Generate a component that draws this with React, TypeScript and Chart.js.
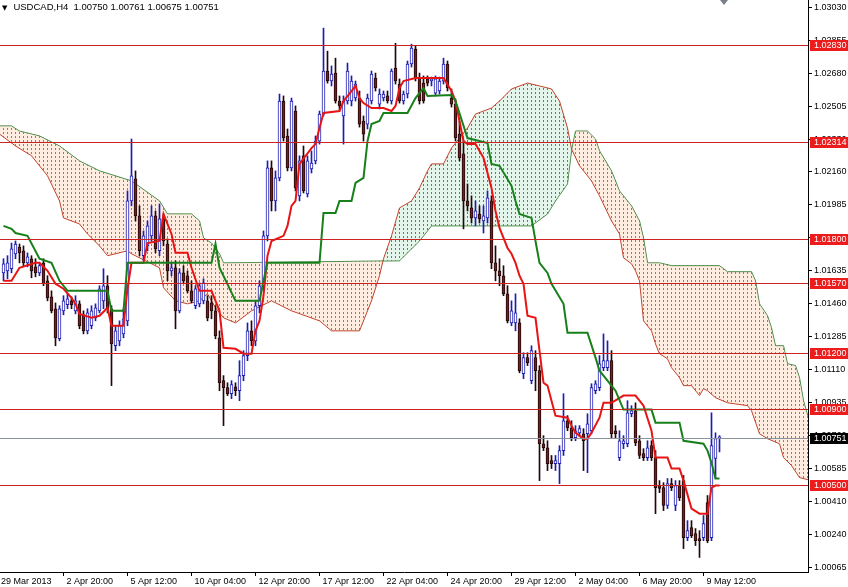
import React, { useEffect, useRef } from "react";
import { Chart, registerables } from "chart.js";
Chart.register(...registerables);

const headerSymbol = "USDCAD,H4";
const headerValues = "1.00750 1.00761 1.00675 1.00751";

const opens = [
  1.01623, 1.01634, 1.01645, 1.01724, 1.0176, 1.0174, 1.01676, 1.01698, 1.01655, 1.01623,
  1.01676, 1.01581, 1.01496, 1.01433, 1.01274, 1.01422, 1.01454, 1.01475, 1.01422, 1.01459,
  1.01401, 1.01316, 1.01343, 1.01385, 1.01422, 1.01475, 1.01555, 1.01433, 1.01237, 1.01263,
  1.013, 1.01369, 1.02004, 1.02121, 1.01925, 1.01714, 1.01766, 1.01819, 1.01925, 1.0174,
  1.01909, 1.01776, 1.01634, 1.0165, 1.01422, 1.01623, 1.01608, 1.01528, 1.01449, 1.01459,
  1.01475, 1.01475, 1.01464, 1.01422, 1.01279, 1.01052, 1.01015, 1.00983, 1.0102, 1.00999,
  1.01079, 1.01185, 1.01316, 1.01263, 1.01449, 1.01555, 1.01819, 1.02179, 1.02004, 1.02126,
  1.02533, 1.02348, 1.02179, 1.0248, 1.02031, 1.02243, 1.02041, 1.02174, 1.02216, 1.02321,
  1.02464, 1.02692, 1.02639, 1.02681, 1.02533, 1.02454, 1.02533, 1.02533, 1.02549, 1.02549,
  1.02427, 1.02411, 1.02533, 1.02655, 1.02517, 1.02549, 1.0256, 1.02533, 1.02708, 1.02623,
  1.02533, 1.0257, 1.02729, 1.02808, 1.02655, 1.02628, 1.0265, 1.02639, 1.02575, 1.02586,
  1.02639, 1.02729, 1.02549, 1.02517, 1.02358, 1.02253, 1.02004, 1.01967, 1.01914, 1.01935,
  1.01898, 1.01914, 1.02004, 1.01676, 1.01634, 1.01608, 1.01512, 1.01358, 1.01358, 1.01358,
  1.01089, 1.01174, 1.01052, 1.01174, 1.01105, 1.00718, 1.00697, 1.00629, 1.00613, 1.00613,
  1.00682, 1.0084, 1.00803, 1.0075, 1.00776, 1.00771, 1.00771, 1.00787, 1.00999, 1.01015,
  1.01121, 1.01121, 1.01158, 1.00787, 1.00645, 1.00718, 1.00718, 1.00877, 1.00893, 1.00734,
  1.00666, 1.00645, 1.00708, 1.00645, 1.00497, 1.00486, 1.00391, 1.00507, 1.00391, 1.00497,
  1.00523, 1.00221, 1.00274, 1.00242, 1.00216, 1.00221, 1.00406, 1.00221, 1.0064, 1.0075,
];
const highs = [
  1.01698, 1.01714, 1.01781, 1.01792, 1.01776, 1.01766, 1.01729, 1.01714, 1.01698, 1.01676,
  1.01698, 1.01608, 1.01528, 1.01464, 1.01449, 1.01502, 1.01512, 1.01496, 1.01502, 1.01475,
  1.01422, 1.01433, 1.01449, 1.01459, 1.01555, 1.01645, 1.01608, 1.01449, 1.01343, 1.01369,
  1.01433, 1.02057, 1.02332, 1.02163, 1.01978, 1.01845, 1.01898, 1.01978, 1.01951, 1.01988,
  1.01935, 1.01803, 1.01676, 1.01687, 1.01645, 1.01661, 1.01634, 1.01581, 1.01555, 1.0157,
  1.01592, 1.01502, 1.01502, 1.01449, 1.01316, 1.01079, 1.01041, 1.01052, 1.01041, 1.01158,
  1.01211, 1.01358, 1.01369, 1.01475, 1.01581, 1.01845, 1.02216, 1.02216, 1.02163, 1.0257,
  1.0256, 1.02385, 1.02549, 1.02507, 1.02243, 1.02295, 1.02243, 1.02269, 1.02348, 1.0248,
  1.02919, 1.02797, 1.02719, 1.0276, 1.0256, 1.0256, 1.02734, 1.02666, 1.02639, 1.02586,
  1.02454, 1.0257, 1.02692, 1.02681, 1.02597, 1.02586, 1.02586, 1.02703, 1.02839, 1.0265,
  1.02586, 1.02745, 1.02834, 1.02824, 1.02681, 1.02666, 1.02666, 1.0266, 1.02666, 1.0266,
  1.0276, 1.02745, 1.02597, 1.02544, 1.02427, 1.02321, 1.02094, 1.02031, 1.02004, 1.01978,
  1.01978, 1.02057, 1.02031, 1.01766, 1.01698, 1.01661, 1.01555, 1.01475, 1.01512, 1.0138,
  1.012, 1.012, 1.01237, 1.01211, 1.01132, 1.00761, 1.00734, 1.00656, 1.00656, 1.00708,
  1.00983, 1.00867, 1.0084, 1.00814, 1.00814, 1.00798, 1.00877, 1.01036, 1.01052, 1.01185,
  1.013, 1.01263, 1.01211, 1.00814, 1.00787, 1.00761, 1.00946, 1.0092, 1.00935, 1.00761,
  1.00692, 1.00734, 1.00734, 1.00682, 1.00523, 1.00512, 1.00534, 1.00534, 1.00523, 1.00523,
  1.0055, 1.00311, 1.00311, 1.00269, 1.00258, 1.00338, 1.00444, 1.00882, 1.00776, 1.00761,
];
const lows = [
  1.01581, 1.01592, 1.01623, 1.01698, 1.01676, 1.01661, 1.01655, 1.01597, 1.01602, 1.01608,
  1.01555, 1.01475, 1.01411, 1.01237, 1.01263, 1.01401, 1.01433, 1.01433, 1.01406, 1.01327,
  1.013, 1.013, 1.01327, 1.01369, 1.01411, 1.01433, 1.01411, 1.01026, 1.01211, 1.01237,
  1.01279, 1.01343, 1.01978, 1.01898, 1.01714, 1.01687, 1.0174, 1.01792, 1.01729, 1.01714,
  1.01766, 1.01581, 1.01608, 1.01327, 1.01411, 1.0157, 1.01517, 1.01464, 1.01433, 1.01443,
  1.01459, 1.01369, 1.0138, 1.01274, 1.00999, 1.00814, 1.00973, 1.00957, 1.00973, 1.00946,
  1.01052, 1.01158, 1.01237, 1.01237, 1.01411, 1.01528, 1.01792, 1.01951, 1.01951, 1.0211,
  1.02321, 1.02163, 1.02163, 1.02057, 1.02004, 1.02046, 1.02025, 1.02152, 1.022, 1.02305,
  1.02454, 1.02628, 1.02613, 1.02522, 1.0248, 1.02305, 1.02517, 1.02507, 1.02533, 1.02395,
  1.02321, 1.02385, 1.02517, 1.02586, 1.02491, 1.02533, 1.02522, 1.02517, 1.02623, 1.02522,
  1.02517, 1.02549, 1.02713, 1.02639, 1.02517, 1.02522, 1.02613, 1.02613, 1.0256, 1.0257,
  1.02623, 1.02586, 1.02501, 1.02321, 1.02216, 1.01856, 1.01951, 1.01887, 1.01872, 1.01887,
  1.01834, 1.01887, 1.01645, 1.01581, 1.01555, 1.01502, 1.01358, 1.01343, 1.01316, 1.01094,
  1.01063, 1.01132, 1.01036, 1.00999, 1.00523, 1.00682, 1.00576, 1.00587, 1.00576, 1.00507,
  1.00656, 1.00787, 1.00734, 1.00734, 1.00755, 1.00576, 1.00565, 1.00771, 1.00983, 1.00999,
  1.01105, 1.01105, 1.0075, 1.0075, 1.00629, 1.00692, 1.00702, 1.00861, 1.00708, 1.0064,
  1.00629, 1.00629, 1.00629, 1.00348, 1.00459, 1.00364, 1.00375, 1.0047, 1.00364, 1.00417,
  1.00163, 1.00205, 1.00221, 1.00179, 1.00116, 1.00205, 1.00194, 1.00205, 1.00534, 1.00675,
];
const closes = [
  1.01671, 1.01676, 1.0175, 1.01776, 1.01729, 1.01676, 1.01708, 1.01634, 1.01623, 1.01661,
  1.01565, 1.01491, 1.01422, 1.01279, 1.01433, 1.01475, 1.01486, 1.01454, 1.01475, 1.01343,
  1.01316, 1.01411, 1.01422, 1.01438, 1.01539, 1.01555, 1.01433, 1.01247, 1.01316, 1.01343,
  1.0138, 1.02004, 1.02137, 1.01925, 1.0174, 1.01819, 1.01872, 1.01925, 1.0175, 1.01909,
  1.01792, 1.01634, 1.0165, 1.01422, 1.01623, 1.01581, 1.01528, 1.01475, 1.01539, 1.01555,
  1.0157, 1.01385, 1.01422, 1.0129, 1.01041, 1.01015, 1.00983, 1.01031, 1.00999, 1.01079,
  1.01185, 1.01316, 1.01263, 1.01449, 1.01555, 1.01819, 1.02179, 1.02004, 1.02126, 1.02533,
  1.02337, 1.02179, 1.02533, 1.02073, 1.02216, 1.02057, 1.02216, 1.02205, 1.02321, 1.02464,
  1.02692, 1.02639, 1.02676, 1.02533, 1.02507, 1.02533, 1.02692, 1.02639, 1.02623, 1.02411,
  1.02358, 1.02549, 1.02676, 1.02602, 1.0257, 1.0257, 1.02533, 1.02692, 1.02639, 1.02533,
  1.0257, 1.02729, 1.02813, 1.02655, 1.02533, 1.02533, 1.02628, 1.0265, 1.0265, 1.02639,
  1.02729, 1.02602, 1.02517, 1.02337, 1.02232, 1.02004, 1.01978, 1.01914, 1.01951, 1.01909,
  1.01925, 1.0202, 1.01676, 1.01634, 1.01608, 1.01512, 1.01369, 1.01422, 1.01411, 1.01105,
  1.01174, 1.01147, 1.01211, 1.01105, 1.00718, 1.00697, 1.00613, 1.00613, 1.00629, 1.00682,
  1.0084, 1.00803, 1.0075, 1.00787, 1.00798, 1.00734, 1.00824, 1.01015, 1.01036, 1.01142,
  1.01158, 1.01158, 1.00771, 1.00771, 1.00734, 1.00734, 1.00882, 1.00893, 1.00723, 1.00656,
  1.00645, 1.00697, 1.00645, 1.00486, 1.00481, 1.00391, 1.00507, 1.00486, 1.00497, 1.00433,
  1.00221, 1.00258, 1.00232, 1.00205, 1.00205, 1.00295, 1.00205, 1.00708, 1.00745, 1.00751,
];

// Ichimoku lines: [bar index, price]
const tenkan: [number, number][] = [
  [0, 1.01581], [2, 1.01581], [4, 1.0165], [8, 1.01676], [9, 1.01676], [11, 1.01634], [13, 1.01565],
  [15, 1.01539], [17, 1.01491], [18, 1.01459], [19, 1.01406], [22, 1.01385], [24, 1.01396], [26, 1.01438],
  [27, 1.01343], [30, 1.01343], [31, 1.01539], [32, 1.01676], [35, 1.01676], [36, 1.01781], [39, 1.01792],
  [40, 1.01935], [42, 1.01829], [43, 1.01729], [46, 1.01729], [47, 1.0165], [49, 1.01528], [52, 1.01528],
  [53, 1.01475], [54, 1.01422], [55, 1.01226], [58, 1.01221], [60, 1.01195], [62, 1.01195], [63, 1.01316],
  [64, 1.01369], [65, 1.01502], [66, 1.01714], [67, 1.01792], [70, 1.01819], [71, 1.01872], [72, 1.01978],
  [73, 1.02004], [74, 1.022], [77, 1.02284], [78, 1.02305], [79, 1.0239], [80, 1.0247], [84, 1.0248],
  [85, 1.02533], [87, 1.02586], [88, 1.02613], [89, 1.02549], [90, 1.02522], [92, 1.02496], [95, 1.02496],
  [97, 1.0248], [98, 1.02507], [99, 1.02602], [100, 1.02639], [103, 1.02655], [110, 1.02655], [112, 1.02586],
  [113, 1.02533], [115, 1.02321], [116, 1.02305], [118, 1.02305], [120, 1.02232], [122, 1.02073], [123, 1.01951],
  [124, 1.01861], [126, 1.01755], [127, 1.01724], [128, 1.01676], [129, 1.01608], [130, 1.01565], [131, 1.01396],
  [133, 1.01385], [134, 1.01211], [135, 1.01041], [136, 1.01026], [137, 1.00946], [138, 1.00867], [141, 1.00856],
  [142, 1.00814], [143, 1.00776], [145, 1.00745], [146, 1.00745], [147, 1.00776], [149, 1.00856], [150, 1.00935],
  [152, 1.00935], [155, 1.00973], [158, 1.00973], [160, 1.0092], [162, 1.00787], [163, 1.00645], [166, 1.00645],
  [167, 1.00587], [169, 1.00587], [170, 1.00523], [172, 1.00375], [174, 1.00348], [176, 1.00348], [177, 1.00486],
  [178, 1.00497], [179, 1.00497],
];
const kijun: [number, number][] = [
  [0, 1.01872], [2, 1.01856], [3, 1.01834], [6, 1.01819], [9, 1.01698], [12, 1.01676], [14, 1.01581],
  [16, 1.01528], [26, 1.01528], [27, 1.01422], [30, 1.01422], [31, 1.01676], [52, 1.01676], [53, 1.01776],
  [54, 1.0165], [58, 1.01475], [64, 1.01475], [65, 1.01581], [66, 1.01676], [79, 1.01676], [80, 1.0194],
  [83, 1.0194], [84, 1.02004], [87, 1.02004], [88, 1.02099], [90, 1.02126], [91, 1.02321], [92, 1.02411],
  [94, 1.02427], [95, 1.0247], [101, 1.0247], [103, 1.02549], [105, 1.02602], [106, 1.0256], [112, 1.02565],
  [113, 1.02533], [116, 1.02337], [121, 1.02311], [122, 1.022], [124, 1.0219], [127, 1.02084], [128, 1.02004],
  [129, 1.01935], [132, 1.01914], [133, 1.01792], [134, 1.01676], [136, 1.01623], [137, 1.01565], [140, 1.01459],
  [141, 1.01306], [146, 1.01306], [148, 1.01174], [149, 1.01105], [151, 1.01052], [153, 1.00999], [155, 1.00899],
  [162, 1.00899], [163, 1.0083], [169, 1.0083], [170, 1.00734], [175, 1.00718], [176, 1.00682], [177, 1.00618],
  [178, 1.00534], [179, 1.00534],
];
const senkouA: [number, number][] = [
  [-1, 1.02358], [3, 1.02295], [7, 1.02243], [11, 1.02137], [14, 1.02004], [15, 1.01914], [19, 1.01882],
  [21, 1.01829], [24, 1.01766], [26, 1.01714], [28, 1.01724], [31, 1.0174], [32, 1.01724], [39, 1.0165],
  [40, 1.01544], [43, 1.01475], [46, 1.01459], [49, 1.01475], [51, 1.01512], [53, 1.01438], [55, 1.01385],
  [58, 1.01358], [62, 1.01422], [67, 1.01475], [72, 1.01422], [79, 1.01369], [82, 1.01316], [89, 1.01316],
  [92, 1.01475], [94, 1.01608], [95, 1.01698], [97, 1.01819], [99, 1.01967], [102, 1.02004], [104, 1.02073],
  [106, 1.02163], [107, 1.022], [110, 1.022], [112, 1.02284], [116, 1.0239], [118, 1.02464], [122, 1.02496],
  [124, 1.02533], [127, 1.02597], [131, 1.02628], [134, 1.02613], [137, 1.02597], [139, 1.02533], [141, 1.0239],
  [142, 1.02279], [144, 1.0219], [147, 1.0211], [149, 1.02031], [152, 1.01898], [154, 1.01829], [155, 1.01703],
  [157, 1.01671], [158, 1.01634], [159, 1.01581], [160, 1.01369], [162, 1.01316], [163, 1.01247], [164, 1.01195],
  [166, 1.01168], [167, 1.01121], [169, 1.01068], [170, 1.01026], [172, 1.01026], [174, 1.00973], [175, 1.0101],
  [176, 1.00999], [178, 1.00962], [181, 1.00935], [186, 1.0092], [187, 1.00893], [189, 1.00771], [191, 1.00745],
  [194, 1.00718], [195, 1.00645], [197, 1.00603], [199, 1.00539], [202, 1.00523],
];
const senkouB: [number, number][] = [
  [-1, 1.02401], [2, 1.02401], [4, 1.02374], [9, 1.02348], [14, 1.02295], [19, 1.02216], [24, 1.02163],
  [32, 1.0211], [39, 1.02004], [41, 1.01935], [47, 1.01935], [49, 1.01898], [50, 1.01808], [52, 1.01781],
  [54, 1.01724], [55, 1.01676], [99, 1.01687], [104, 1.01792], [107, 1.01872], [132, 1.01872], [136, 1.01935],
  [138, 1.02004], [141, 1.02094], [142, 1.02269], [143, 1.02374], [146, 1.02374], [148, 1.02332], [149, 1.02269],
  [152, 1.02163], [154, 1.02057], [157, 1.01978], [159, 1.01898], [160, 1.01808], [161, 1.01676], [164, 1.01676],
  [167, 1.01661], [179, 1.01661], [181, 1.01629], [187, 1.01629], [188, 1.01581], [189, 1.01459], [191, 1.01396],
  [192, 1.01332], [193, 1.01237], [195, 1.01237], [196, 1.01142], [198, 1.01132], [199, 1.01068], [200, 1.00946],
  [202, 1.00798],
];

const levels = [1.0283, 1.02314, 1.018, 1.0157, 1.012, 1.009, 1.005];
const currentPrice = 1.00751;
const priceTicks = [
  1.0303, 1.02855, 1.0268, 1.02505, 1.0233, 1.0216, 1.01985, 1.0181, 1.01635,
  1.0146, 1.01285, 1.0111, 1.00935, 1.0076, 1.00585, 1.0041, 1.0024, 1.00065,
];
const timeTickBars = [-1.375, 15, 31, 47, 63, 79, 95, 111, 127, 143, 159, 175];
const timeTickLabels = [
  "29 Mar 2013", "2 Apr 20:00", "5 Apr 12:00", "10 Apr 04:00", "12 Apr 20:00", "17 Apr 12:00",
  "22 Apr 04:00", "24 Apr 20:00", "29 Apr 12:00", "2 May 04:00", "6 May 20:00", "9 May 12:00",
];

const X_MIN = -0.875;
const X_MAX = 201.125;
const Y_MAX = 1.03068;
const Y_MIN = 1.00039;

const FONT = "Liberation Sans";
const BULL = "#1c1cb0";
const BEAR_FILL = "#742020";
const BEAR_EDGE = "#200808";

export default function App() {
  const ref = useRef<HTMLCanvasElement>(null);
  useEffect(() => {
    document.body.style.margin = "0";
    const canvas = ref.current!;
    const ctx = canvas.getContext("2d")!;
    const mkPattern = (tint: string, color: string) => {
      const c = document.createElement("canvas");
      c.width = 4;
      c.height = 4;
      const g = c.getContext("2d")!;
      g.fillStyle = tint;
      g.fillRect(0, 0, 4, 4);
      g.fillStyle = color;
      g.fillRect(3, 0, 1, 2);
      return ctx.createPattern(c, "repeat")!;
    };
    const orangeDots = mkPattern("rgba(255,214,190,0.45)", "#f25a26");
    const greenDots = mkPattern("rgba(196,236,212,0.45)", "#22a060");
    const isBull = (i: number) => closes[i] >= opens[i];

    const overlay = {
      id: "levels",
      afterDatasetsDraw(chart: any) {
        const { ctx: c, chartArea: a, scales } = chart;
        const y = scales.y;
        c.save();
        c.beginPath();
        c.rect(a.left, a.top, a.right - a.left, a.bottom - a.top);
        c.clip();
        c.lineWidth = 1;
        const cp = Math.round(y.getPixelForValue(currentPrice)) + 0.5;
        c.strokeStyle = "#8a929e";
        c.beginPath();
        c.moveTo(a.left, cp);
        c.lineTo(a.right, cp);
        c.stroke();
        c.strokeStyle = "#cc2222";
        levels.forEach((v) => {
          const py = Math.round(y.getPixelForValue(v)) + 0.5;
          c.beginPath();
          c.moveTo(a.left, py);
          c.lineTo(a.right, py);
          c.stroke();
        });
        c.restore();
      },
      afterDraw(chart: any) {
        const { ctx: c, chartArea: a, scales } = chart;
        const y = scales.y;
        c.save();
        c.font = `9px "${FONT}"`;
        c.textBaseline = "middle";
        c.textAlign = "left";
        const box = (v: number, bg: string) => {
          const py = Math.round(y.getPixelForValue(v));
          c.fillStyle = bg;
          c.fillRect(a.right + 2, py - 5, 38, 11);
          c.fillStyle = "#ffffff";
          c.fillText(v.toFixed(5), a.right + 6, py + 0.5);
        };
        levels.forEach((v) => box(v, "#ec1c1c"));
        box(currentPrice, "#000000");
        c.restore();
      },
    };

    const chart = new Chart(canvas, {
      type: "bar",
      data: {
        datasets: [
          {
            type: "line",
            data: kijun.map(([x, y]) => ({ x, y })),
            borderColor: "#17801a",
            borderWidth: 2,
            pointRadius: 0,
            tension: 0,
            order: 0,
          } as any,
          {
            type: "line",
            data: tenkan.map(([x, y]) => ({ x, y })),
            borderColor: "#e81414",
            borderWidth: 2,
            pointRadius: 0,
            tension: 0,
            order: 1,
          } as any,
          {
            type: "bar",
            data: opens.map((o, i) => ({ x: i, y: [o, closes[i]] })),
            backgroundColor: (c: any) => (isBull(c.dataIndex) ? "#ffffff" : BEAR_FILL),
            borderColor: (c: any) => (isBull(c.dataIndex) ? BULL : BEAR_EDGE),
            borderWidth: 1,
            borderSkipped: false,
            barThickness: 3,
            minBarLength: 1,
            grouped: false,
            order: 2,
          } as any,
          {
            type: "bar",
            data: lows.map((l, i) => ({ x: i, y: [l, highs[i]] })),
            backgroundColor: (c: any) => (isBull(c.dataIndex) ? BULL : BEAR_EDGE),
            borderWidth: 0,
            barThickness: 1,
            grouped: false,
            order: 3,
          } as any,
          {
            type: "line",
            data: senkouA.map(([x, y]) => ({ x, y })),
            borderColor: "#c0442c",
            borderWidth: 1,
            pointRadius: 0,
            tension: 0,
            fill: { target: 5, above: greenDots, below: orangeDots },
            order: 4,
          } as any,
          {
            type: "line",
            data: senkouB.map(([x, y]) => ({ x, y })),
            borderColor: "#2a7a2a",
            borderWidth: 1,
            pointRadius: 0,
            tension: 0,
            fill: false,
            order: 5,
          } as any,
        ],
      },
      options: {
        animation: false,
        responsive: false,
        maintainAspectRatio: false,
        events: [],
        layout: { padding: 0 },
        plugins: { legend: { display: false }, tooltip: { enabled: false }, title: { display: false } },
        scales: {
          x: {
            type: "linear",
            position: "bottom",
            min: X_MIN,
            max: X_MAX,
            offset: false,
            grid: { drawOnChartArea: false, drawTicks: true, tickLength: 4, color: "#000", offset: false },
            border: { display: true, color: "#000" },
            ticks: {
              autoSkip: false,
              maxRotation: 0,
              minRotation: 0,
              align: "start",
              labelOffset: 3,
              padding: 0,
              color: "#000",
              font: { family: FONT, size: 9 },
              callback: (_v: any, i: number) => timeTickLabels[i],
            },
            afterBuildTicks: (s: any) => {
              s.ticks = timeTickBars.map((v) => ({ value: v }));
            },
            afterFit: (s: any) => {
              s.height = 15;
              s.paddingLeft = 0;
              s.paddingRight = 0;
            },
          },
          y: {
            type: "linear",
            position: "right",
            min: Y_MIN,
            max: Y_MAX,
            grid: { drawOnChartArea: false, drawTicks: true, tickLength: 4, color: "#000" },
            border: { display: true, color: "#000" },
            ticks: {
              padding: 2,
              color: "#000",
              font: { family: FONT, size: 9 },
              callback: (v: any) => Number(v).toFixed(5),
            },
            afterBuildTicks: (s: any) => {
              s.ticks = priceTicks.map((v) => ({ value: v }));
            },
            afterFit: (s: any) => {
              s.width = 40;
              s.paddingTop = 0;
              s.paddingBottom = 0;
            },
          },
        },
      } as any,
      plugins: [overlay],
    });
    return () => chart.destroy();
  }, []);

  return (
    <div style={{ position: "relative", width: 848, height: 587, background: "#fff", overflow: "hidden" }}>
      <canvas ref={ref} width={848} height={587} style={{ display: "block" }} />
      <div
        style={{
          position: "absolute",
          left: 2,
          top: 1,
          fontFamily: FONT,
          fontSize: 9.5,
          lineHeight: "11px",
          color: "#000",
          whiteSpace: "pre",
        }}
      >
        <span style={{ fontSize: 7, fontFamily: "DejaVu Sans", marginRight: 6 }}>▼</span>
        {headerSymbol + "  " + headerValues}
      </div>
      <div
        style={{
          position: "absolute",
          left: 720,
          top: 0,
          width: 0,
          height: 0,
          borderLeft: "4px solid transparent",
          borderRight: "4px solid transparent",
          borderTop: "5px solid #7a7f88",
        }}
      />
    </div>
  );
}
